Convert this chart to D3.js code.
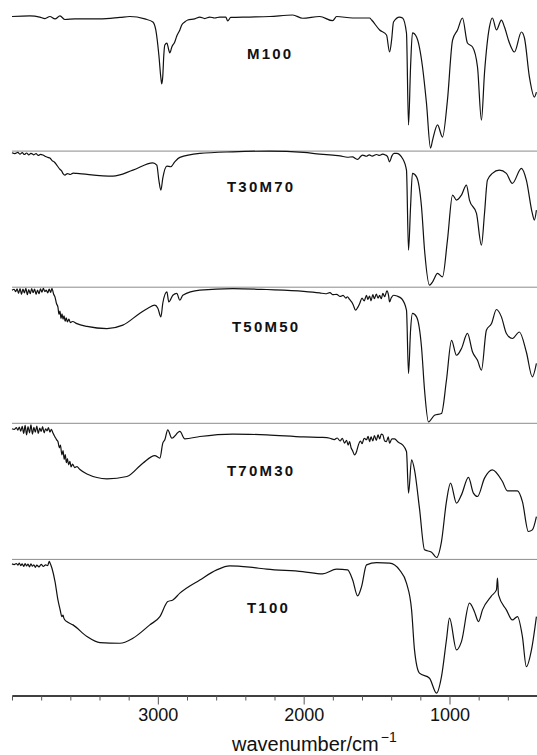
<!DOCTYPE html>
<html><head><meta charset="utf-8">
<script src="https://cdn.jsdelivr.net/npm/d3@7"></script>
<style>html,body{margin:0;padding:0;background:#fff;} svg{display:block}</style>
</head><body>
<svg id="chart" width="537" height="755"></svg>
<script>
// ---------- DATA (wavenumber / cm-1, transmittance %) ----------
const sampleNames = ["M100", "T30M70", "T50M50", "T70M30", "T100"];

const m100 = [[4000,98.9],[3877,99.3],[3810,98.5],[3774,97.4],[3740,98.9],[3705,97.1],[3671,99.3],[3637,96.7],[3568,97.1],[3397,97.1],[3260,98.2],[3192,98.9],[3089,97.1],[3034,94.9],[3014,89],[2993,70.6],[2979,53.7],[2973,49.3],[2966,55.2],[2959,70.6],[2952,78],[2938,79.4],[2925,74.3],[2918,72.1],[2904,76.5],[2884,80.2],[2870,84.6],[2849,89],[2836,92.7],[2815,94.9],[2795,96.3],[2747,97.1],[2712,98.5],[2678,97.4],[2644,98.5],[2610,97.8],[2575,98.5],[2534,98.5],[2521,95.6],[2500,98.2],[2370,98.5],[2233,98.9],[2075,100],[2007,97.6],[1890,98.9],[1801,95.8],[1774,98.9],[1664,97.8],[1548,97.8],[1534,96.3],[1479,89],[1432,85.3],[1411,72.8],[1397,81.6],[1384,94.9],[1343,98.5],[1322,97.8],[1295,86.8],[1281,19.2],[1267,61.8],[1254,86.8],[1226,83.8],[1185,61.8],[1158,35.3],[1130,2.2],[1116,8.1],[1082,19.2],[1048,10.3],[1014,37.5],[979,81.6],[945,89],[911,97.8],[877,79.4],[842,76.5],[808,61.8],[781,22.8],[760,57.4],[726,91.2],[706,97.8],[678,89],[644,96.3],[623,91.2],[589,79.4],[555,72.8],[507,87.5],[486,83.1],[452,54.4],[418,39.7],[404,43.4]];

const t30m70 = [[4000,98.8],[3980,98.2],[3960,99],[3945,97.8],[3930,98.9],[3915,97.5],[3900,98.6],[3885,97.2],[3870,98.4],[3850,97.3],[3835,98.2],[3820,96.8],[3805,97.6],[3788,97.1],[3770,96],[3755,95.4],[3740,94.9],[3725,93],[3710,92],[3695,90],[3685,88.5],[3670,86.5],[3660,85.5],[3650,83.5],[3637,82.4],[3620,83.5],[3600,82.8],[3580,83.8],[3555,83.6],[3308,81.6],[3171,86],[3034,91.4],[3007,89.7],[2993,78.7],[2979,71.3],[2966,80.2],[2938,89],[2911,88.5],[2884,92.1],[2849,95.4],[2712,98.3],[2486,99.5],[2233,100],[2000,99],[1890,97.8],[1800,97],[1750,96.5],[1700,95.5],[1664,95.8],[1645,94.5],[1630,93.9],[1610,96],[1596,97.1],[1570,96.2],[1550,97.3],[1530,96.3],[1500,97.5],[1480,96.8],[1459,97.8],[1440,97.2],[1425,96],[1411,92.1],[1395,96.5],[1380,98.3],[1363,98.3],[1322,94.6],[1295,86],[1281,27.2],[1267,59.1],[1254,83.6],[1226,81.1],[1192,59.1],[1171,27.2],[1137,1.5],[1116,3.9],[1082,10.1],[1048,7.6],[1014,34.6],[979,67.7],[952,64],[918,67.7],[884,75],[863,64],[815,54.2],[781,30.9],[760,54.2],[740,78.7],[706,83.6],[658,86],[610,83.6],[569,76.3],[507,87.3],[473,78.7],[432,54.2],[418,49.3],[404,56.6]];

const t50m50 = [[4000,97.8],[3985,98.5],[3975,96.8],[3965,98.8],[3955,95.5],[3945,99],[3935,94.8],[3925,98.6],[3915,95.8],[3905,99.2],[3895,94.5],[3885,98.2],[3875,95.2],[3865,99],[3855,96],[3845,98.6],[3835,94.8],[3825,97.8],[3815,95.2],[3805,98.8],[3795,96.3],[3785,99.2],[3775,96.8],[3765,97.8],[3755,95.8],[3745,98.6],[3735,96.2],[3726,99.2],[3715,95],[3705,92.7],[3695,88],[3685,85.3],[3678,80],[3671,82.5],[3664,77],[3657,80.5],[3650,76.5],[3643,79],[3636,75],[3628,77.5],[3620,74.5],[3610,76.5],[3600,74],[3585,74.8],[3555,73.2],[3486,71.2],[3349,69.6],[3240,72.1],[3123,80.9],[3068,84.6],[3021,86.8],[3000,84.6],[2979,78.2],[2966,88.2],[2938,96.5],[2925,89.2],[2897,94.1],[2870,95.4],[2849,90.4],[2829,94.1],[2712,97.8],[2486,99],[2253,98.3],[2000,97],[1890,95.8],[1850,95.2],[1820,96],[1800,94.5],[1774,94.8],[1750,93.2],[1730,94],[1710,92],[1700,93],[1685,91],[1670,89],[1660,87],[1644,83.1],[1630,85],[1616,88],[1600,92],[1585,90],[1569,94.1],[1560,91],[1548,93.5],[1538,90],[1526,94.5],[1515,91.5],[1502,95],[1490,92],[1479,94],[1468,91.5],[1457,95.5],[1445,93],[1429,97.3],[1418,94],[1411,89.2],[1400,92],[1384,94.1],[1360,93.5],[1329,91.7],[1295,83.1],[1281,36.6],[1267,68.4],[1254,80.7],[1226,78.2],[1192,56.1],[1171,24.3],[1144,1],[1103,5.9],[1055,7.2],[1021,31.6],[986,61],[952,50],[918,54.9],[877,66],[842,52.4],[808,46.3],[781,39],[747,68.4],[712,73.3],[678,83.6],[644,78.2],[610,66],[569,62.3],[521,67.1],[473,52.4],[432,34.1],[404,44]];

const t70m30 = [[4000,96],[3985,95.5],[3970,96.8],[3960,95],[3950,97.2],[3940,94.2],[3930,97.8],[3920,92.5],[3910,98.5],[3900,91.5],[3890,97.5],[3880,93],[3870,98.8],[3860,92],[3850,97],[3840,93.5],[3830,98],[3820,92.5],[3810,96.5],[3800,94],[3790,97.5],[3780,93],[3770,96],[3760,94.5],[3750,96.8],[3740,93.5],[3730,95.5],[3719,92.8],[3705,90],[3695,88],[3685,86.6],[3675,82],[3668,84],[3658,76.8],[3650,80],[3642,73.5],[3635,77],[3627,71],[3620,74],[3612,69.5],[3603,72],[3595,68],[3585,70],[3570,67.5],[3555,68.2],[3534,66],[3486,62.7],[3349,59.2],[3212,60.9],[3103,70.7],[3021,76.3],[2986,74.4],[2966,85.4],[2952,87.9],[2932,95.2],[2904,89.1],[2849,94],[2815,88.6],[2712,90.3],[2486,92.1],[2253,91.5],[2000,90],[1870,89.6],[1820,89],[1790,88],[1770,89.2],[1750,87],[1735,89],[1720,85.5],[1706,87.5],[1695,84],[1685,86.5],[1675,82],[1665,80],[1651,76.8],[1637,79.3],[1625,84],[1610,87],[1600,85],[1585,89],[1569,87.9],[1558,90.5],[1548,86.5],[1538,90],[1526,87],[1515,91],[1502,87.5],[1490,91.5],[1479,88.5],[1468,92],[1457,91.5],[1445,87],[1432,86.6],[1420,90],[1411,85.4],[1395,88.6],[1377,88.6],[1350,86],[1322,84.2],[1295,79.3],[1281,48.7],[1260,73.2],[1240,65.8],[1206,37.7],[1171,7],[1123,5.3],[1089,1.4],[1055,13.1],[1021,42.5],[993,56],[952,41.3],[918,47.4],[870,60.2],[836,48.7],[808,46.2],[760,59.7],[706,65.8],[637,57.2],[603,50.4],[534,50.4],[500,42.5],[459,20.5],[432,21.7],[404,31.5]];

const t100 = [[4000,96.7],[3985,96.2],[3970,97],[3960,95.8],[3950,97.2],[3940,95.5],[3930,96.8],[3920,94.8],[3910,97],[3900,95.2],[3890,96.5],[3880,94.5],[3870,96.8],[3860,95],[3850,96],[3840,94.2],[3830,95.8],[3815,94.5],[3800,96.3],[3785,94.8],[3770,96],[3755,95.5],[3745,98.5],[3740,97.6],[3726,93.5],[3705,83.7],[3685,70.2],[3670,63],[3658,58],[3650,59],[3645,57],[3637,55.5],[3620,54],[3582,51.9],[3486,43.3],[3397,38.8],[3260,38.4],[3171,42.1],[3055,51.9],[2986,58],[2932,69],[2897,70.2],[2849,75.2],[2712,84.9],[2596,92.3],[2507,95.2],[2370,94.3],[2253,92.8],[2007,91],[1870,89.3],[1774,92.8],[1699,92.3],[1664,84.9],[1630,73.2],[1603,80],[1569,96],[1500,97.6],[1411,97.2],[1343,92.3],[1295,82.5],[1260,62.9],[1240,33.5],[1206,16.4],[1137,12.7],[1089,1.7],[1055,13.9],[1021,40.8],[1000,56.8],[952,33.5],[918,39.6],[863,67.8],[829,61.6],[801,54.3],[774,62.9],[712,73.2],[678,77.6],[671,86.2],[664,73.9],[610,62.9],[569,55.5],[534,58],[500,43.3],[473,21.2],[438,33.5],[404,58]];

const spectra = [m100, t30m70, t50m50, t70m30, t100];
const tickValues = [4000,3800,3600,3400,3200,3000,2800,2600,2400,2200,2000,1800,1600,1400,1200,1000,800,600,400];
const tickLabels = [3000, 2000, 1000];

// ---------- LAYOUT ----------
const plotLeft = 12, plotRight = 537;
const firstTop = 15, panelH = 136.1;
const labelLayout = [{x:247, dy:44.3},{x:227, dy:41.3},{x:232, dy:44.7},{x:227, dy:52.2},{x:247, dy:53.2}];
const font = "'Liberation Sans', Arial, Helvetica, sans-serif";

const svg = d3.select("#chart");
const x = d3.scaleLinear().domain([4000, 400]).range([plotLeft, plotRight]);

spectra.forEach((data, i) => {
  const top = firstTop + i * panelH;
  const y = d3.scaleLinear().domain([0, 100]).range([top + panelH, top]);
  const g = svg.append("g");
  if (i < spectra.length - 1) {
    g.append("line")
      .attr("x1", plotLeft).attr("x2", plotRight)
      .attr("y1", y(0)).attr("y2", y(0))
      .attr("stroke", "#8c8c8c").attr("stroke-width", 1);
  }
  const line = d3.line().x(d => x(d[0])).y(d => y(d[1])).curve(d3.curveMonotoneX);
  g.append("path").datum(data).attr("d", line)
    .attr("fill", "none").attr("stroke", "#111").attr("stroke-width", 1.2)
    .attr("stroke-linejoin", "round");
  g.append("text")
    .attr("x", labelLayout[i].x).attr("y", top + labelLayout[i].dy)
    .attr("font-family", font).attr("font-weight", "bold")
    .attr("font-size", 15).attr("letter-spacing", 2.2)
    .attr("fill", "#111")
    .text(sampleNames[i]);
});

const axisY = firstTop + spectra.length * panelH;
const axis = d3.axisBottom(x).tickValues(tickValues).tickSizeOuter(0).tickPadding(4)
  .tickSizeInner(9)
  .tickFormat(d => tickLabels.includes(d) ? d : "");
const ag = svg.append("g").attr("transform", `translate(0,${axisY})`).call(axis);
ag.select(".domain").attr("stroke", "#000").attr("stroke-width", 1.6);
ag.selectAll(".tick line")
  .attr("y2", d => tickLabels.includes(d) ? 9 : 5)
  .attr("stroke", "#555").attr("stroke-width", 1);
ag.selectAll(".tick text").attr("font-family", font).attr("font-size", 18).attr("fill", "#111");

const title = svg.append("text")
  .attr("x", 232).attr("y", 751)
  .attr("font-family", font).attr("font-size", 20).attr("fill", "#111");
title.append("tspan").text("wavenumber/cm");
title.append("tspan").attr("dy", -9).attr("dx", 2).attr("font-size", 14).text("−1");
</script>
</body></html>
